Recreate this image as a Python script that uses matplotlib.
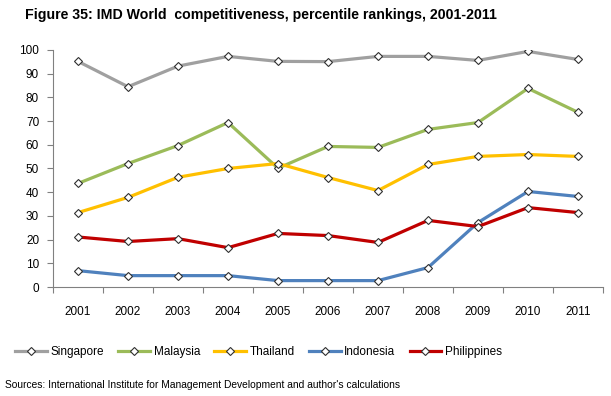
import matplotlib
matplotlib.use("Agg")
import matplotlib.pyplot as plt
from matplotlib.lines import Line2D

plt.rcParams['font.family'] = ['Liberation Sans', 'DejaVu Sans']

years = ["2001", "2002", "2003", "2004", "2005", "2006", "2007", "2008", "2009", "2010", "2011"]
singapore = [95.2, 84.5, 93.2, 97.3, 95.2, 95.1, 97.3, 97.3, 95.6, 99.4, 96.0]
malaysia = [43.7, 52.1, 59.7, 69.4, 50.1, 59.3, 58.9, 66.5, 69.4, 83.8, 73.7]
thailand = [31.4, 37.8, 46.3, 50.0, 52.1, 46.2, 40.7, 51.7, 55.1, 55.9, 55.1]
indonesia = [6.9, 4.8, 4.8, 4.8, 2.7, 2.7, 2.7, 8.2, 27.2, 40.3, 38.2]
philippines = [21.1, 19.2, 20.4, 16.6, 22.6, 21.7, 18.8, 28.1, 25.5, 33.5, 31.4]

series = [
    ("Singapore", singapore, "#a0a0a0"),
    ("Malaysia", malaysia, "#9bbb59"),
    ("Thailand", thailand, "#ffc000"),
    ("Indonesia", indonesia, "#4f81bd"),
    ("Philippines", philippines, "#c00000"),
]

fig = plt.figure(figsize=(6.11, 3.96), dpi=100)
ax = fig.add_axes([53 / 611, 1 - 287 / 396, 550 / 611, 237 / 396])

x = list(range(len(years)))
for name, vals, col in series:
    ax.plot(x, vals, color=col, lw=2.3, marker="D", markersize=4.5,
            markerfacecolor="white", markeredgecolor="#303030", markeredgewidth=0.8,
            label=name, solid_joinstyle="miter")

ax.set_xlim(-0.5, len(years) - 0.5)
ax.set_ylim(0, 100)
ax.set_yticks(range(0, 101, 10))
ax.set_xticks([i - 0.5 for i in range(len(years) + 1)], minor=False)
ax.set_xticklabels([])
ax.set_xticks(x, minor=True)
ax.set_xticklabels(years, minor=True)
ax.tick_params(axis="x", which="minor", length=0, pad=14, labelsize=8.5)
ax.tick_params(axis="x", which="major", length=4, color="#808080", direction="out")
ax.tick_params(axis="y", length=4, color="#808080", direction="out", labelsize=8.5, pad=6)
for s in ["top", "right"]:
    ax.spines[s].set_visible(False)
for s in ["left", "bottom"]:
    ax.spines[s].set_color("#808080")
    ax.spines[s].set_linewidth(0.8)

fig.text(25 / 611, 1 - 15 / 396, "Figure 35: IMD World  competitiveness, percentile rankings, 2001-2011",
         fontsize=10.2, fontweight="bold", va="center", ha="left")

handles = [Line2D([0], [0], color=col, lw=2.3, marker="D", markersize=4.5,
                  markerfacecolor="white", markeredgecolor="#303030", markeredgewidth=0.8)
           for _, _, col in series]
fig.legend(handles, [s[0] for s in series], loc="center", bbox_to_anchor=(258.5 / 611, 1 - 352 / 396),
           ncol=5, frameon=False, fontsize=8.5, handlelength=2.7, columnspacing=1.2, handletextpad=0.3)

fig.text(5 / 611, 1 - 385 / 396, "Sources: International Institute for Management Development and author's calculations",
         fontsize=7.4, va="center", ha="left")

fig.savefig("out.png", dpi=100)
